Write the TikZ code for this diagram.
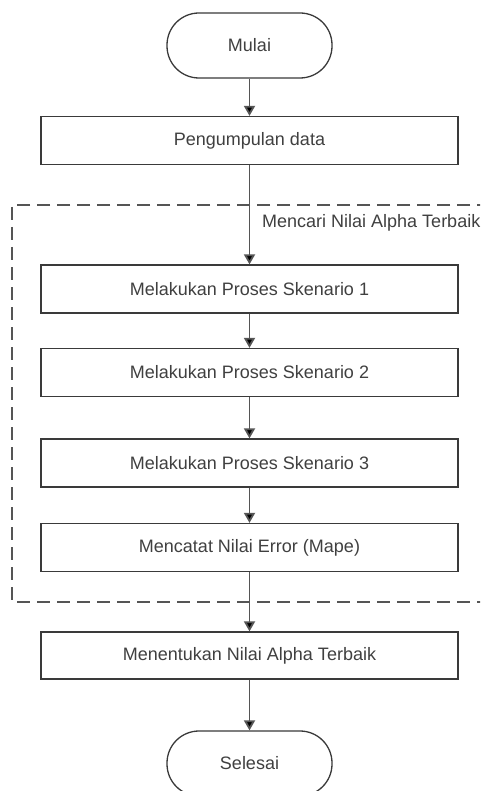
\documentclass[tikz,border=0pt]{standalone}
\usepackage{fontspec}
\setmainfont{Liberation Sans}
\usetikzlibrary{arrows.meta}
\definecolor{edgegray}{HTML}{3A3A3A}
\definecolor{linegray}{HTML}{555555}
\definecolor{textgray}{HTML}{404040}
\begin{document}
\begin{tikzpicture}[x=1pt, y=-1pt,
  every node/.style={font=\fontsize{18}{22}\selectfont, text=textgray},
  procbox/.style={draw=edgegray, line width=1.3pt, fill=white,
    minimum width=417pt, minimum height=48pt, inner sep=0pt},
  termbox/.style={draw=edgegray, line width=1.3pt, fill=white,
    minimum width=165pt, minimum height=65pt, rounded corners=32pt, inner sep=0pt},
  flow/.style={draw=linegray, line width=1.8pt,
    -{Triangle[width=11pt,length=10pt,fill=black]}},
  group/.style={draw=linegray, line width=1.4pt, dash pattern=on 13pt off 7pt}]
  \clip (0,0) rectangle (480,791);
  \fill[white] (0,0) rectangle (480,791);

  % grouping frame around the scenario steps
  \draw[group] (490,205) -- (12,205) -- (12,602) -- (490,602);

  % flow steps
  \node[termbox] (mulai)  at (249.5,45.5)  {Mulai};
  \node[procbox] (data)   at (249.5,140.5) {Pengumpulan data};
  \node[procbox] (sk1)    at (249.5,289)   {Melakukan Proses Skenario 1};
  \node[procbox] (sk2)    at (249.5,372.5) {Melakukan Proses Skenario 2};
  \node[procbox] (sk3)    at (249.5,463)   {Melakukan Proses Skenario 3};
  \node[procbox] (catat)  at (249.5,547.5) {Mencatat Nilai Error (Mape)};
  \node[procbox, minimum height=47pt] (tentu) at (249.5,655.5) {Menentukan Nilai Alpha Terbaik};
  \node[termbox] (selesai) at (249.5,763.5) {Selesai};

  % frame label
  \node[anchor=west, inner sep=0pt] (glabel) at (262,223) {Mencari Nilai Alpha Terbaik};

  % connectors
  \draw[flow] (mulai) -- (data);
  \draw[flow] (data) -- (sk1);
  \draw[flow] (sk1) -- (sk2);
  \draw[flow] (sk2) -- (sk3);
  \draw[flow] (sk3) -- (catat);
  \draw[flow] (catat) -- (tentu);
  \draw[flow] (tentu) -- (selesai);
\end{tikzpicture}
\end{document}
